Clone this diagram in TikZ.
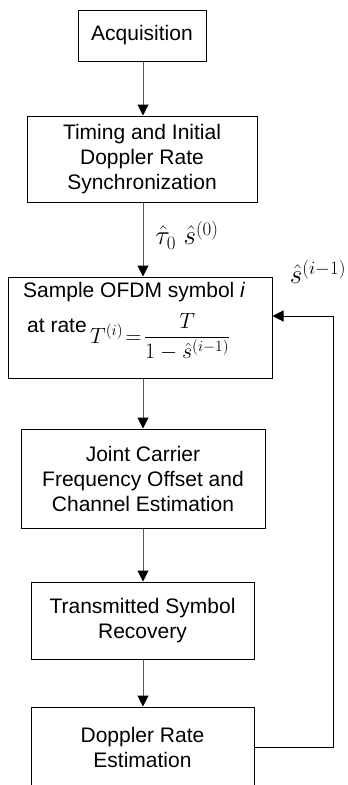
\documentclass[tikz,border=0pt]{standalone}
\usepackage{fix-cm}
\usepackage{amsmath}
\usepackage{fontspec}
\setmainfont{Liberation Sans}
\usetikzlibrary{positioning,arrows.meta}
\tikzset{%
    block/.style={
      rectangle,
      draw,
      line width=1pt,
      align=center,
      inner sep=0pt,
      font=\fontsize{21}{25}\selectfont
    },
    blocktext/.style={
      inner sep=0pt,
      font=\fontsize{21}{25}\selectfont
    },
    flow/.style={
      draw=black!65,
      line width=1pt,
      -{Triangle[black,length=11pt,width=11pt]}
    },
    feedback/.style={
      draw,
      line width=1pt,
      -{Triangle[length=11pt,width=11pt]}
    },
    mathlabel/.style={
      inner sep=0pt,
      font=\fontsize{27}{30}\selectfont
    }
  }
\begin{document}
\begin{tikzpicture}[x=1pt, y=-1pt]
      \clip (0,0) rectangle (348,785);

      \node [block, minimum width=128, minimum height=51] (acq) at (142,35.5) {Acquisition};
      \node [block, minimum width=230, minimum height=86] (sync) at (142,159)
            {Timing and Initial\\Doppler Rate\\Synchronization};
      \node [block, minimum width=264, minimum height=101] (samp) at (140,327.5) {};
      \node [blocktext, anchor=base west] (samptxt) at (23,297) {Sample OFDM symbol \textit{i}};
      \node [blocktext, anchor=base west] (ratetxt) at (27,332) {at rate};
      \node [mathlabel, font=\fontsize{22}{26}\selectfont, anchor=base west] (ratemath) at (90,343)
            {$T^{(i)}\!=\!\dfrac{T}{1-\hat{s}^{(i-1)}}$};
      \node [block, minimum width=244, minimum height=99] (joint) at (143,478.5)
            {Joint Carrier\\Frequency Offset and\\Channel Estimation};
      \node [block, minimum width=223, minimum height=77] (recov) at (142.5,620.5)
            {Transmitted Symbol\\Recovery};
      \node [block, minimum width=223, minimum height=80] (dopp) at (142.5,747)
            {Doppler Rate\\Estimation};

      \node [mathlabel] (est0) at (187,235) {$\hat{\tau}_0\;\hat{s}^{(0)}$};
      \node [mathlabel] (estprev) at (318,272) {$\hat{s}^{(i-1)}$};

      \coordinate (fbtop) at (333,316);

      \draw [flow] (acq.south -| 143,0) -- (143,0 |- sync.north);
      \draw [flow] (sync.south -| 143,0) -- (143,0 |- samp.north);
      \draw [flow] (samp.south -| 143,0) -- (143,0 |- joint.north);
      \draw [flow] (joint.south -| 143,0) -- (143,0 |- recov.north);
      \draw [flow] (recov.south -| 143,0) -- (143,0 |- dopp.north);

      \draw [feedback] (dopp.east) -| (fbtop) -- (fbtop -| samp.east);
\end{tikzpicture}
\end{document}
